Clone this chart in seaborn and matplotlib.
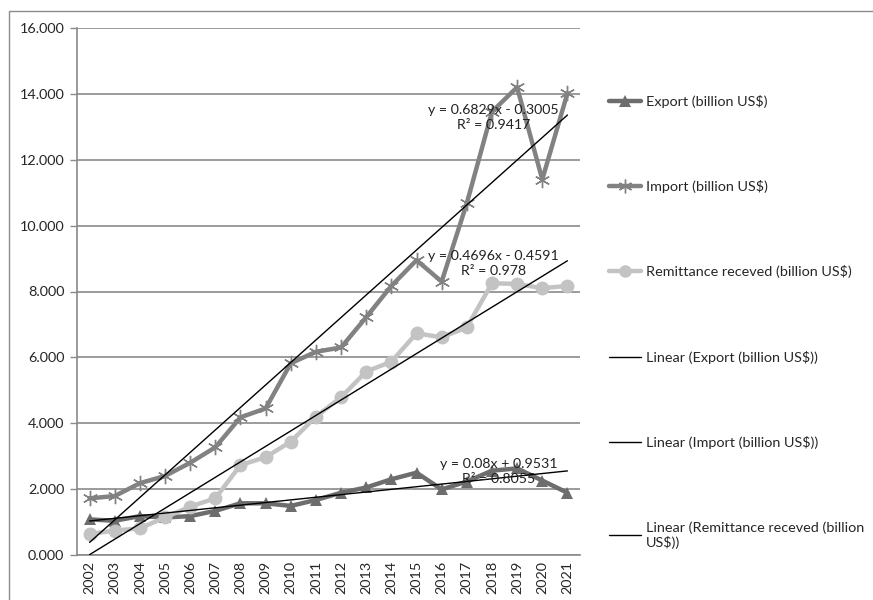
import matplotlib
matplotlib.use("Agg")
import matplotlib.pyplot as plt
from matplotlib.lines import Line2D
from matplotlib.patches import Rectangle
import seaborn as sns
import numpy as np
import pandas as pd

# ----------------------------------------------------------------------
# Data
# ----------------------------------------------------------------------
years = [str(y) for y in range(2002, 2022)]

export = [1.08, 1.04, 1.18, 1.14, 1.18, 1.34, 1.57, 1.57, 1.49, 1.67,
          1.89, 2.05, 2.30, 2.50, 1.99, 2.23, 2.56, 2.63, 2.26, 1.89]
imports = [1.72, 1.79, 2.18, 2.40, 2.80, 3.27, 4.18, 4.45, 5.82, 6.17,
           6.30, 7.22, 8.17, 8.95, 8.30, 10.68, 13.46, 14.20, 11.40, 14.02]
remittance = [0.64, 0.74, 0.81, 1.14, 1.47, 1.72, 2.73, 2.97, 3.44, 4.20,
              4.79, 5.57, 5.87, 6.73, 6.61, 6.91, 8.25, 8.23, 8.10, 8.17]

series_names = ["Export (billion US$)", "Import (billion US$)",
                "Remittance receved (billion US$)"]

# Excel linear trendline coefficients (x = 1..20)
trend_slope = [0.08, 0.6829, 0.4696]
trend_intercept = [0.9531, -0.3005, -0.4591]
trend_r2 = ["0.8055", "0.9417", "0.978"]

y_ticks = [0, 2, 4, 6, 8, 10, 12, 14, 16]

# ----------------------------------------------------------------------
# Style
# ----------------------------------------------------------------------
sns.set_theme(style="white")
plt.rcParams["font.family"] = ["Lato", "DejaVu Sans"]

colors = ["#6d6d6d", "#828282", "#c3c3c3"]
markers = ["^", (6, 2, 0), "o"]
msizes = [9, 11, 10]

df = pd.DataFrame({"year": years, "idx": np.arange(len(years)),
                   series_names[0]: export,
                   series_names[1]: imports,
                   series_names[2]: remittance})

fig = plt.figure(figsize=(8.73, 6.0), dpi=100)
ax = fig.add_axes([77 / 873, 1 - 555 / 600, 503 / 873, 527 / 600])

# chart area frame
fig.patches.append(Rectangle((8.5 / 873, -0.01), 1.0, 1 - 10.5 / 600 + 0.01,
                             transform=fig.transFigure, fill=False,
                             edgecolor="#8c8c8c", linewidth=1.0))

# gridlines
for t in y_ticks:
    ax.axhline(t, color="#8a8a8a", linewidth=1.2, zorder=0)

# series
for name, col, mk, ms in zip(series_names, colors, markers, msizes):
    sns.lineplot(data=df, x="idx", y=name, ax=ax, color=col, linewidth=3.2,
                 marker=mk, markersize=ms, markeredgecolor=col,
                 markeredgewidth=1.0 if mk == (6, 2, 0) else 0,
                 zorder=3, legend=False)

# linear trendlines
x_num = np.arange(1, len(years) + 1)
for s, b in zip(trend_slope, trend_intercept):
    ax.plot(df["idx"], s * x_num + b, color="black", linewidth=1.0, zorder=4)

# trendline labels
def eq_text(s, b):
    sign = "-" if b < 0 else "+"
    return f"y = {s:g}x {sign} {abs(b):g}"

label_pos = [(16.28, 2.53), (16.05, 13.28), (16.05, 8.86)]
for (lx, ly), s, b, r2 in zip(label_pos, trend_slope, trend_intercept, trend_r2):
    ax.text(lx, ly, eq_text(s, b) + "\nR² = " + r2, ha="center", va="center",
            fontsize=10.2, color="#222222", linespacing=1.3, zorder=5)

# axes
ax.set_xlim(-0.5, len(years) - 0.5)
ax.set_ylim(0, 16)
ax.set_yticks(y_ticks)
ax.set_yticklabels([f"{t:.3f}" for t in y_ticks], fontsize=10.4)
ax.set_xticks(df["idx"])
ax.set_xticklabels(years, rotation=90, fontsize=10.4)
ax.set_xticks(np.arange(-0.5, len(years)), minor=True)
ax.tick_params(axis="x", which="major", length=0, pad=4)
ax.tick_params(axis="x", which="minor", length=5, color="#8a8a8a", width=1)
ax.tick_params(axis="y", length=5, color="#8a8a8a", width=1, left=True, pad=4)
ax.set_xlabel("")
ax.set_ylabel("")
for side in ["top", "right"]:
    ax.spines[side].set_visible(False)
ax.spines["left"].set_color("#8a8a8a")
ax.spines["bottom"].set_color("#8a8a8a")
ax.spines["left"].set_linewidth(1.2)
ax.spines["bottom"].set_linewidth(1.2)
ax.set_facecolor("white")

# legend
handles = [Line2D([], [], color=c, linewidth=3.2, marker=m, markersize=ms * 0.9,
                  markeredgecolor=c, markeredgewidth=1.0 if m == (6, 2, 0) else 0)
           for c, m, ms in zip(colors, markers, msizes)]
handles += [Line2D([], [], color="black", linewidth=1.0) for _ in range(3)]
labels = series_names + ["Linear (Export (billion US$))",
                         "Linear (Import (billion US$))",
                         "Linear (Remittance receved (billion\nUS$))"]
fig.legend(handles, labels, loc="upper left", bbox_to_anchor=(609 / 873, 1 - 95 / 600),
           frameon=False, fontsize=10.4, handlelength=2.2, handletextpad=0.35,
           labelspacing=5.0, borderaxespad=0, borderpad=0)

fig.savefig("out.png", dpi=100, facecolor="white")
